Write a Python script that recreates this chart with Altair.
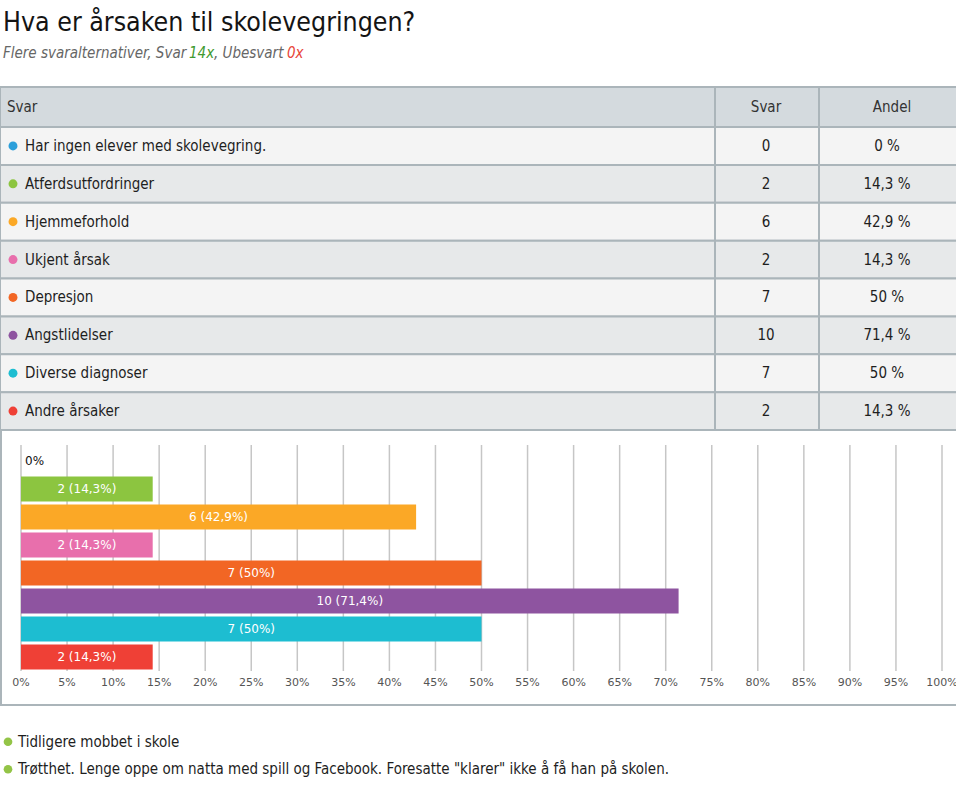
import altair as alt
import pandas as pd

# ---------------- data ----------------
categories = [
    "Har ingen elever med skolevegring.",
    "Atferdsutfordringer",
    "Hjemmeforhold",
    "Ukjent årsak",
    "Depresjon",
    "Angstlidelser",
    "Diverse diagnoser",
    "Andre årsaker",
]
counts = [0, 2, 6, 2, 7, 10, 7, 2]
shares = [0, 14.3, 42.9, 14.3, 50, 71.4, 50, 14.3]
share_labels = ["0 %", "14,3 %", "42,9 %", "14,3 %", "50 %", "71,4 %", "50 %", "14,3 %"]
bar_labels = ["0%", "2 (14,3%)", "6 (42,9%)", "2 (14,3%)", "7 (50%)", "10 (71,4%)", "7 (50%)", "2 (14,3%)"]
colors = ["#2b9fda", "#8cc540", "#fba826", "#e86fac", "#f26624", "#8e54a0", "#1dbdd1", "#ef4036"]
tick_values = list(range(0, 101, 5))
notes = [
    "Tidligere mobbet i skole",
    "Trøtthet. Lenge oppe om natta med spill og Facebook. Foresatte \"klarer\" ikke å få han på skolen.",
]
title_text = "Hva er årsaken til skolevegringen?"
subtitle_parts = ["Flere svaralternativer, Svar ", "14x", ", Ubesvart ", "0x"]
subtitle_colors = ["#666666", "#3f9a2f", "#666666", "#e8463a"]
header_labels = ["Svar", "Svar", "Andel"]

NARROW = "Liberation Sans Narrow, DejaVu Sans Condensed, Arial Narrow, sans-serif"
CHARTF = "DejaVu Sans, Verdana, sans-serif"
BORDER = "#abb5ba"
TFS = 15

df = pd.DataFrame({
    "cat": categories,
    "count": counts,
    "share": shares,
    "share_label": share_labels,
    "bar_label": bar_labels,
    "shade": ["a" if i % 2 == 0 else "b" for i in range(len(categories))],
})
df["mid"] = df["share"] / 2
ticks_df = pd.DataFrame({"t": tick_values, "lab": [f"{t}%" for t in tick_values]})
notes_df = pd.DataFrame({"note": notes})
one = pd.DataFrame({"k": [0]})

table_y = alt.Y("cat:N", sort=categories, axis=None,
                scale=alt.Scale(domain=categories, range=[127, 430], paddingInner=0, paddingOuter=0))
bar_y = alt.Y("cat:N", sort=categories, axis=None,
              scale=alt.Scale(domain=categories, range=[447, 671], paddingInner=0.1, paddingOuter=0.05))
bar_xscale = alt.Scale(domain=[0, 100], range=[21, 942])
cat_color = alt.Color("cat:N", sort=categories, legend=None,
                      scale=alt.Scale(domain=categories, range=colors))

# ---------------- title ----------------
title = alt.Chart(one).mark_text(
    text=title_text, font=NARROW, fontSize=26.5, align="left", baseline="alphabetic", color="#141414"
).encode(x=alt.value(3), y=alt.value(31))

sub_x = [3, 189, 214, 287]
sub_layers = []
for i, part in enumerate(subtitle_parts):
    sub_layers.append(
        alt.Chart(one).mark_text(
            text=part, font=NARROW, fontSize=15, fontStyle="italic", align="left",
            baseline="alphabetic", color=subtitle_colors[i]
        ).encode(x=alt.value(sub_x[i]), y=alt.value(58))
    )

# ---------------- table ----------------
header_bg = alt.Chart(one).mark_rect(fill="#d4dade", stroke=BORDER, strokeWidth=2).encode(
    x=alt.value(0), x2=alt.value(958), y=alt.value(87), y2=alt.value(127))

rows = alt.Chart(df).mark_rect(stroke=BORDER, strokeWidth=2).encode(
    y=table_y, x=alt.value(0), x2=alt.value(958),
    fill=alt.Fill("shade:N", legend=None, scale=alt.Scale(domain=["a", "b"], range=["#f4f4f4", "#e7e9ea"])),
)

sep1 = alt.Chart(one).mark_rule(color=BORDER, strokeWidth=2).encode(
    x=alt.value(715), y=alt.value(87), y2=alt.value(430))
sep2 = alt.Chart(one).mark_rule(color=BORDER, strokeWidth=2).encode(
    x=alt.value(819), y=alt.value(87), y2=alt.value(430))

hdr1 = alt.Chart(one).mark_text(text=header_labels[0], font=NARROW, fontSize=TFS, align="left",
                                baseline="middle", color="#333333").encode(x=alt.value(7), y=alt.value(107))
hdr2 = alt.Chart(one).mark_text(text=header_labels[1], font=NARROW, fontSize=TFS, align="center",
                                baseline="middle", color="#333333").encode(x=alt.value(766), y=alt.value(107))
hdr3 = alt.Chart(one).mark_text(text=header_labels[2], font=NARROW, fontSize=TFS, align="center",
                                baseline="middle", color="#333333").encode(x=alt.value(892), y=alt.value(107))

dots = alt.Chart(df).mark_circle(size=80, opacity=1).encode(
    y=table_y, x=alt.value(13), color=cat_color)
cat_text = alt.Chart(df).mark_text(font=NARROW, fontSize=TFS, align="left", baseline="middle",
                                   color="#1e1e1e").encode(y=table_y, x=alt.value(25), text="cat:N")
count_text = alt.Chart(df).mark_text(font=NARROW, fontSize=TFS, align="center", baseline="middle",
                                     color="#1e1e1e").encode(y=table_y, x=alt.value(766), text="count:Q")
share_text = alt.Chart(df).mark_text(font=NARROW, fontSize=TFS, align="center", baseline="middle",
                                     color="#1e1e1e").encode(y=table_y, x=alt.value(887), text="share_label:N")

# ---------------- bar chart ----------------
left_border = alt.Chart(one).mark_rule(color=BORDER, strokeWidth=2).encode(
    x=alt.value(1), y=alt.value(430), y2=alt.value(706))
bottom_border = alt.Chart(one).mark_rule(color=BORDER, strokeWidth=2).encode(
    x=alt.value(0), x2=alt.value(956), y=alt.value(705))

grid = alt.Chart(ticks_df).mark_rule(color="#c6c6c6", strokeWidth=1.5).encode(
    x=alt.X("t:Q", scale=bar_xscale, axis=None), y=alt.value(445), y2=alt.value(671))
tick_labels = alt.Chart(ticks_df).mark_text(font=CHARTF, fontSize=11, align="center", baseline="middle",
                                            color="#555555").encode(
    x=alt.X("t:Q", scale=bar_xscale, axis=None), y=alt.value(683), text="lab:N")

bars = alt.Chart(df).mark_bar(opacity=1).encode(
    x=alt.X("share:Q", scale=bar_xscale, axis=None), y=bar_y, color=cat_color)

bar_text = alt.Chart(df).transform_filter("datum.share > 0").mark_text(
    font=CHARTF, fontSize=12, align="center", baseline="middle", color="white").encode(
    x=alt.X("mid:Q", scale=bar_xscale, axis=None), y=bar_y, text="bar_label:N")
zero_text = alt.Chart(df).transform_filter("datum.share == 0").mark_text(
    font=CHARTF, fontSize=12, align="left", baseline="middle", dx=4, color="#111111").encode(
    x=alt.X("share:Q", scale=bar_xscale, axis=None), y=bar_y, text="bar_label:N")

# ---------------- notes ----------------
notes_y = alt.Y("note:N", sort=notes, axis=None,
                scale=alt.Scale(domain=notes, range=[728, 783], paddingInner=0, paddingOuter=0))
note_dots = alt.Chart(notes_df).mark_circle(size=75, opacity=1, color="#93c447").encode(
    y=notes_y, x=alt.value(8))
note_text = alt.Chart(notes_df).mark_text(font=NARROW, fontSize=TFS, align="left", baseline="middle",
                                          color="#1e1e1e").encode(y=notes_y, x=alt.value(18), text="note:N")

chart = alt.layer(
    title, *sub_layers,
    header_bg, rows, sep1, sep2, hdr1, hdr2, hdr3, dots, cat_text, count_text, share_text,
    left_border, bottom_border, grid, tick_labels, bars, bar_text, zero_text,
    note_dots, note_text,
).resolve_scale(x="independent", y="independent", color="independent", fill="independent").properties(
    width=956, height=785, autosize=alt.AutoSizeParams(type="none"), padding=0,
    background="white",
).configure_view(stroke=None)

chart.save("out.html", embed_options={"renderer": "svg", "actions": False})
